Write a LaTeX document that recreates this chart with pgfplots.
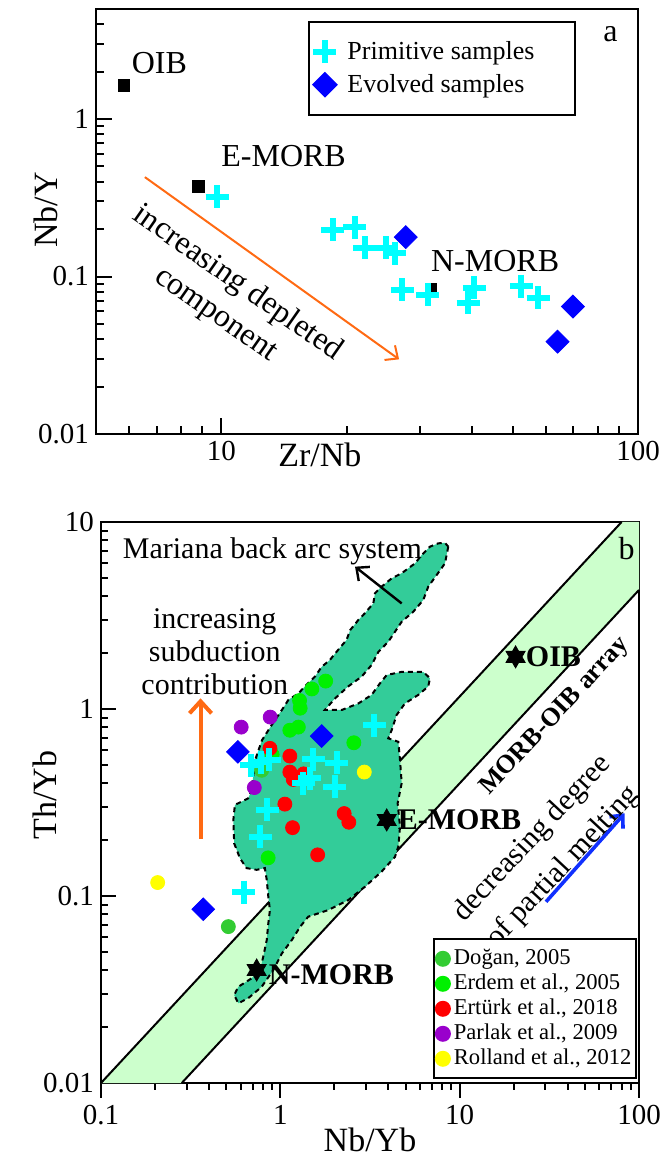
\documentclass[border=0pt]{standalone}
\usepackage{pgfplots}
\pgfplotsset{compat=1.18}
\usepackage{fontspec}
\setmainfont{Liberation Serif}
\usetikzlibrary{arrows.meta}
\definecolor{cyanc}{HTML}{00FFFF}
\definecolor{bluec}{HTML}{0000FF}
\definecolor{orangec}{HTML}{FF6A13}
\definecolor{polyc}{HTML}{33CC99}
\definecolor{bandc}{HTML}{CCFFCC}
\definecolor{dogan}{HTML}{33CC33}
\definecolor{erdem}{HTML}{00F000}
\definecolor{erturk}{HTML}{FF0000}
\definecolor{parlak}{HTML}{9900CC}
\definecolor{rolland}{HTML}{FFFF00}
\definecolor{bluearrow}{HTML}{1030FF}
\pgfdeclareplotmark{hexstar}{%
  \pgfpathmoveto{\pgfpointpolar{90}{\pgfplotmarksize}}%
  \pgfpathlineto{\pgfpointpolar{120}{0.57735\pgfplotmarksize}}%
  \pgfpathlineto{\pgfpointpolar{150}{\pgfplotmarksize}}%
  \pgfpathlineto{\pgfpointpolar{180}{0.57735\pgfplotmarksize}}%
  \pgfpathlineto{\pgfpointpolar{210}{\pgfplotmarksize}}%
  \pgfpathlineto{\pgfpointpolar{240}{0.57735\pgfplotmarksize}}%
  \pgfpathlineto{\pgfpointpolar{270}{\pgfplotmarksize}}%
  \pgfpathlineto{\pgfpointpolar{300}{0.57735\pgfplotmarksize}}%
  \pgfpathlineto{\pgfpointpolar{330}{\pgfplotmarksize}}%
  \pgfpathlineto{\pgfpointpolar{0}{0.57735\pgfplotmarksize}}%
  \pgfpathlineto{\pgfpointpolar{30}{\pgfplotmarksize}}%
  \pgfpathlineto{\pgfpointpolar{60}{0.57735\pgfplotmarksize}}%
  \pgfpathclose
  \pgfusepathqfillstroke}
\begin{document}
\begin{tikzpicture}
\useasboundingbox (0,0) rectangle (332pt,582pt);
% ---------------- panel a ----------------
\begin{axis}[
  scale only axis, anchor=south west,
  at={(48pt,365pt)}, width=271pt, height=212.5pt,
  xmode=log, ymode=log,
  xmin=5, xmax=100, ymin=0.01, ymax=5,
  xtick={10,100}, xticklabels={10,100},
  minor xtick={6,7,8,9,20,30,40,50,60,70,80,90},
  ytick={0.01,0.1,1}, yticklabels={0.01,0.1,1},
  minor ytick={0.02,0.03,0.04,0.05,0.06,0.07,0.08,0.09,0.2,0.3,0.4,0.5,0.6,0.7,0.8,0.9,2,3,4},
  tick pos=left, tick align=inside, major tick length=8pt, minor tick length=4pt,
  tick style={black, line width=1pt},
  axis line style={line width=1.2pt},
  ticklabel style={font=\fontsize{14.5}{17}\selectfont},
  label style={font=\fontsize{17}{20}\selectfont},
  xlabel={Zr/Nb}, ylabel={Nb/Y},
  xlabel style={at={(axis description cs:0.413,-0.049)}, anchor=center},
  ylabel style={at={(axis description cs:-0.092,0.527)}, anchor=center},
  legend cell align=left,
  legend image code/.code={\draw[#1] plot coordinates {(0pt,0pt)};},
  legend style={at={(axis description cs:0.392,0.9725)}, anchor=north west,
    draw=black, line width=1pt, font=\fontsize{13}{15}\selectfont,
    inner xsep=2pt, inner ysep=7pt, row sep=0.5pt,
    nodes={inner sep=1pt, text height=11pt, text depth=3pt},
    /tikz/every odd column/.append style={column sep=4.5pt}},
]
\addplot[only marks, mark=square*, mark size=2.9pt, black, forget plot] coordinates {
  (5.83,1.64) (8.8,0.375) (31.8,0.0835)};
\addplot[only marks, mark=+, mark size=5.75pt, color=cyanc, line width=3pt] coordinates {
  (9.77,0.322) (18.5,0.198) (20.9,0.205) (22.1,0.152) (24.9,0.152) (26.1,0.141)
  (27.2,0.0827) (31.3,0.0769) (39.1,0.068) (40.5,0.0848) (52.5,0.0869) (57.6,0.0733)};
\addlegendentry{Primitive samples\hspace*{17pt}}
\addplot[only marks, mark=square*, mark size=4.07pt, mark options={rotate=45}, color=bluec] coordinates {
  (27.7,0.178) (69.8,0.0645) (64.1,0.0386)};
\addlegendentry{Evolved samples}
\addplot[orangec, line width=1pt, -{Straight Barb[length=5pt,width=9pt]}, forget plot] coordinates {
  (6.55,0.428) (26.7,0.0298)};
\node[font=\fontsize{16}{19}\selectfont, rotate=-35, align=center] at (axis cs:10.3,0.072) {increasing depleted\\component};
\node[font=\fontsize{16}{19}\selectfont] at (axis cs:7.1,2.27) {OIB};
\node[font=\fontsize{16}{19}\selectfont] at (axis cs:14.1,0.579) {E-MORB};
\node[font=\fontsize{16}{19}\selectfont] at (axis cs:45.4,0.1245) {N-MORB};
\node[font=\fontsize{16}{19}\selectfont] at (axis cs:85.9,3.44) {a};
\end{axis}
% ---------------- panel b ----------------
\begin{axis}[
  scale only axis, anchor=south west,
  at={(50.5pt,40.5pt)}, width=269pt, height=280.5pt,
  xmode=log, ymode=log,
  xmin=0.1, xmax=100, ymin=0.01, ymax=10,
  xtick={0.1,1,10,100}, xticklabels={0.1,1,10,100},
  minor xtick={0.2,0.3,0.4,0.5,0.6,0.7,0.8,0.9,2,3,4,5,6,7,8,9,20,30,40,50,60,70,80,90},
  ytick={0.01,0.1,1,10}, yticklabels={0.01,0.1,1,10},
  minor ytick={0.02,0.03,0.04,0.05,0.06,0.07,0.08,0.09,0.2,0.3,0.4,0.5,0.6,0.7,0.8,0.9,2,3,4,5,6,7,8,9},
  tick pos=left, xtick align=outside, ytick align=inside,
  major tick length=7.5pt, minor tick length=3.5pt,
  tick style={black, line width=1pt},
  axis line style={line width=1.2pt},
  ticklabel style={font=\fontsize{14.5}{17}\selectfont},
  label style={font=\fontsize{17}{20}\selectfont},
  xlabel={Nb/Yb}, ylabel={Th/Yb},
  xlabel style={at={(axis description cs:0.5,-0.102)}, anchor=center},
  ylabel style={at={(axis description cs:-0.104,0.513)}, anchor=center},
  legend cell align=left,
  legend image code/.code={\draw[#1] plot coordinates {(0pt,0pt)};},
  legend style={at={(axis description cs:0.9954,0.0066)}, anchor=south east,
    draw=black, line width=1pt, fill=white, font=\fontsize{11.3}{13}\selectfont,
    inner xsep=1pt, inner ysep=3.5pt, row sep=0pt,
    nodes={inner sep=1pt, text height=8pt, text depth=2.5pt},
    /tikz/every odd column/.append style={column sep=1pt}},
]
% MORB-OIB array
\addplot[fill=bandc, draw=none, forget plot] coordinates {
  (0.1,0.01) (80,10) (100,10) (100,4.33) (0.282,0.01)} -- cycle;
\addplot[black, line width=1pt, forget plot] coordinates {(0.1,0.01) (80,10)};
\addplot[black, line width=1pt, forget plot] coordinates {(0.282,0.01) (100,4.33)};
% Mariana back arc field
\addplot[fill=polyc, draw=black, line width=1pt, dash pattern=on 2.5pt off 2pt, forget plot] coordinates {
  (8.64,7.38) (8.28,6.01) (7.45,5.21) (6.68,4.51) (6.27,3.83) (5.51,3.31)
  (4.75,2.93) (4.36,2.59) (4.00,2.29) (3.52,2.02) (3.23,1.72) (2.84,1.49)
  (2.39,1.32) (2.02,1.14) (1.77,0.988) (2.20,0.988) (2.72,1.07) (3.23,1.19)
  (3.59,1.37) (3.92,1.52) (4.75,1.58) (6.27,1.58) (6.83,1.46) (6.68,1.32)
  (5.88,1.19) (4.95,1.07) (4.45,0.929) (4.18,0.772) (4.00,0.697) (4.55,0.668)
  (4.65,0.533) (4.75,0.401) (4.51,0.313) (4.65,0.235) (4.55,0.184) (4.36,0.162)
  (3.67,0.135) (2.96,0.112) (2.39,0.0951) (1.85,0.0841) (1.43,0.0775) (1.29,0.0685)
  (1.16,0.0582) (1.02,0.0493) (0.914,0.0402) (0.787,0.0327) (0.662,0.0284) (0.583,0.0267)
  (0.553,0.0295) (0.583,0.0327) (0.692,0.0363) (0.771,0.0402) (0.803,0.0473) (0.840,0.0582)
  (0.857,0.0714) (0.875,0.0841) (0.857,0.0991) (0.840,0.122) (0.820,0.141) (0.738,0.138)
  (0.648,0.141) (0.596,0.159) (0.553,0.191) (0.547,0.255) (0.558,0.307) (0.662,0.333)
  (0.692,0.369) (0.723,0.533) (0.791,0.682) (0.895,0.821) (1.02,0.988) (1.11,1.12)
  (1.26,1.21) (1.37,1.32) (1.56,1.49) (1.70,1.68) (1.89,1.83) (2.10,2.07)
  (2.34,2.34) (2.45,2.64) (2.72,2.99) (2.96,3.25) (3.30,3.67) (3.37,4.16)
  (3.67,4.51) (4.18,5.00) (4.75,5.32) (5.64,6.01) (6.14,6.66) (6.83,7.38)
  (7.60,7.69) (8.28,7.74)} -- cycle;
% data
\addplot[only marks, mark=*, mark size=3.5pt, draw=dogan, fill=dogan] coordinates {
  (0.513,0.0686) (0.787,0.47)};
\addlegendentry{Doğan, 2005}
\addplot[only marks, mark=*, mark size=3.5pt, draw=erdem, fill=erdem] coordinates {
  (1.79,1.41) (1.50,1.28) (1.28,1.11) (1.29,1.01) (1.26,0.80) (1.13,0.77)
  (2.57,0.66) (0.855,0.16) (0.90,0.57)};
\addlegendentry{Erdem et al., 2005}
\addplot[only marks, mark=*, mark size=3.5pt, draw=erturk, fill=erturk] coordinates {
  (0.875,0.616) (1.13,0.56) (1.13,0.46) (1.18,0.42) (1.35,0.45) (1.06,0.31)
  (1.17,0.232) (1.615,0.166) (2.27,0.276) (2.41,0.248)};
\addlegendentry{Ertürk et al., 2018}
\addplot[only marks, mark=*, mark size=3.5pt, draw=parlak, fill=parlak] coordinates {
  (0.605,0.80) (0.878,0.905) (0.716,0.38)};
\addlegendentry{Parlak et al., 2009}
\addplot[only marks, mark=*, mark size=3.5pt, draw=rolland, fill=rolland] coordinates {
  (2.94,0.46) (0.207,0.118)};
\addlegendentry{Rolland et al., 2012}
\addplot[only marks, mark=+, mark size=5.75pt, color=cyanc, line width=3pt, forget plot] coordinates {
  (3.35,0.82) (0.69,0.50) (0.78,0.52) (0.87,0.535) (1.53,0.54) (2.06,0.515)
  (1.34,0.40) (1.46,0.425) (2.01,0.385) (0.845,0.29) (0.775,0.208) (0.625,0.105)};
\addplot[only marks, mark=square*, mark size=4pt, mark options={rotate=45}, color=bluec, forget plot] coordinates {
  (1.70,0.717) (0.58,0.59) (0.372,0.085)};
\addplot[only marks, mark=hexstar, mark size=5.5pt, black, forget plot] coordinates {
  (0.738,0.0402) (3.92,0.255) (20.5,1.90)};
% arrows
\addplot[orangec, line width=2pt, -{Straight Barb[length=6pt,width=11pt]}, forget plot] coordinates {
  (0.359,0.203) (0.359,1.14)};
\addplot[black, line width=1.2pt, -{Straight Barb[length=5pt,width=9pt]}, forget plot] coordinates {
  (4.75,3.67) (2.61,5.77)};
\addplot[bluearrow, line width=1.8pt, -{Straight Barb[length=5pt,width=9pt]}, forget plot] coordinates {
  (30.3,0.0931) (83.2,0.277)};
% texts
\node[font=\fontsize{15}{18}\selectfont, anchor=west] at (axis cs:0.121,6.93) {Mariana back arc system};
\node[font=\fontsize{15}{16.5}\selectfont, align=center] at (axis cs:0.431,2.02) {increasing\\subduction\\contribution};
\node[font=\fontsize{13}{15}\selectfont\bfseries, rotate=47] at (axis cs:34.0,0.91) {MORB-OIB array};
\node[font=\fontsize{15}{21}\selectfont, rotate=47, align=center] at (axis cs:31.1,0.170) {decreasing degree\\of partial melting};
\node[font=\fontsize{15}{18}\selectfont\bfseries, anchor=west, inner sep=0pt] at (axis cs:4.50,0.255) {E-MORB};
\node[font=\fontsize{15}{18}\selectfont\bfseries, anchor=west, inner sep=0pt] at (axis cs:0.86,0.0378) {N-MORB};
\node[font=\fontsize{15}{18}\selectfont\bfseries, anchor=west, inner sep=0pt] at (axis cs:23.3,1.905) {OIB};
\node[font=\fontsize{16}{19}\selectfont] at (axis cs:85.3,7.22) {b};
\end{axis}
\end{tikzpicture}
\end{document}
